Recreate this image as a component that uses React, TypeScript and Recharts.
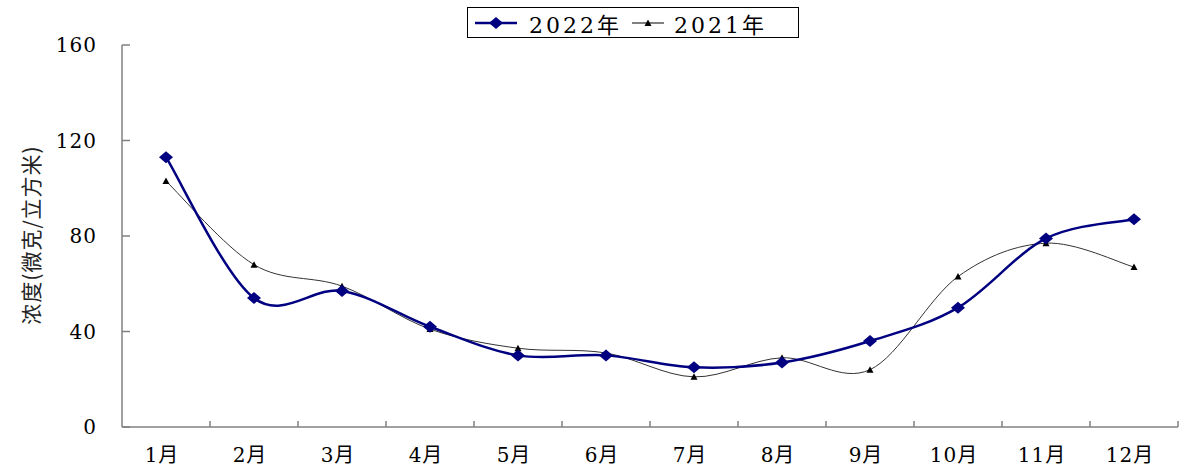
import React from "react"
import { LineChart, Line, XAxis, YAxis } from "recharts"

const MONTHS = ["1月", "2月", "3月", "4月", "5月", "6月", "7月", "8月", "9月", "10月", "11月", "12月"]
const Y2022 = [113, 54, 57, 42, 30, 30, 25, 27, 36, 50, 79, 87]
const Y2021 = [103, 68, 59, 41, 33, 31, 21, 29, 24, 63, 77, 67]
const Y_TICKS = [0, 40, 80, 120, 160]

const NAVY = "#000080"
const AXIS = "#808080"
const FONT = '"DejaVu Serif", "Noto Sans CJK SC", serif'

const data = MONTHS.map((m, i) => ({ month: m, y2022: Y2022[i], y2021: Y2021[i] }))

// excel-like smoothed line (catmull-rom as bezier)
const smooth = (context: any) => {
  let pts: number[][] = []
  return {
    areaStart() {},
    areaEnd() {},
    lineStart() {
      pts = []
    },
    point(x: number, y: number) {
      pts.push([+x, +y])
    },
    lineEnd() {
      if (!pts.length) return
      context.moveTo(pts[0][0], pts[0][1])
      for (let i = 0; i < pts.length - 1; i++) {
        const p0 = pts[i - 1] || pts[i]
        const p1 = pts[i]
        const p2 = pts[i + 1]
        const p3 = pts[i + 2] || p2
        context.bezierCurveTo(
          p1[0] + (p2[0] - p0[0]) / 6,
          p1[1] + (p2[1] - p0[1]) / 6,
          p2[0] - (p3[0] - p1[0]) / 6,
          p2[1] - (p3[1] - p1[1]) / 6,
          p2[0],
          p2[1]
        )
      }
    },
  }
}

const Diamond = (props: any) => {
  const { cx, cy, index } = props
  if (cx == null || cy == null) return <g key={index} />
  return <path key={index} d={`M${cx - 7},${cy} L${cx},${cy - 6} L${cx + 7},${cy} L${cx},${cy + 6} Z`} fill={NAVY} />
}

const Triangle = (props: any) => {
  const { cx, cy, index } = props
  if (cx == null || cy == null) return <g key={index} />
  return <path key={index} d={`M${cx - 3.5},${cy + 3} L${cx},${cy - 3.5} L${cx + 3.5},${cy + 3} Z`} fill="#000" />
}

const MonthTick = (props: any) => {
  const { x, y, payload } = props
  const half = payload?.offset || 44
  return (
    <g>
      <line x1={x + half} x2={x + half} y1={y} y2={y - 6} stroke={AXIS} strokeWidth={1.5} />
      <text x={x - 4} y={y + 35} textAnchor="middle" fontFamily={FONT} fontSize={20} letterSpacing={1} fill="#000">
        {payload.value}
      </text>
    </g>
  )
}

const YTitle = () => (
  <text
    x={30}
    y={235}
    transform="rotate(-90 30 235)"
    textAnchor="middle"
    dominantBaseline="central"
    fontFamily='"Noto Sans CJK SC", sans-serif'
    fontSize={21}
    letterSpacing={1}
    fill="#222"
  >
    浓度(微克/立方米)
  </text>
)

function LegendBox() {
  return (
    <div
      style={{
        position: "absolute",
        left: 467,
        top: 7,
        width: 332,
        height: 31,
        border: "1.5px solid #000",
        display: "flex",
        alignItems: "center",
        fontFamily: FONT,
        fontSize: 22,
        letterSpacing: 3,
        color: "#000",
        boxSizing: "border-box",
      }}
    >
      <svg width={44} height={14} style={{ marginLeft: 7 }}>
        <line x1={0} x2={42} y1={7} y2={7} stroke={NAVY} strokeWidth={2.5} />
        <path d="M14,7 L21,1 L28,7 L21,13 Z" fill={NAVY} />
      </svg>
      <span style={{ marginLeft: 10 }}>2022年</span>
      <svg width={34} height={10} style={{ marginLeft: 10 }}>
        <line x1={0} x2={32} y1={5} y2={5} stroke="#000" strokeWidth={1} />
        <path d="M12.5,8 L16,1.5 L19.5,8 Z" fill="#000" />
      </svg>
      <span style={{ marginLeft: 8 }}>2021年</span>
    </div>
  )
}

export default function App() {
  return (
    <div style={{ position: "absolute", left: 0, top: 0, width: 1184, height: 473, background: "#fff" }}>
      <LineChart width={1184} height={473} data={data} margin={{ top: 45, right: 6, left: 0, bottom: 0 }}>
        <XAxis
          dataKey="month"
          scale="band"
          height={46}
          tickLine={false}
          tickSize={0}
          tickMargin={0}
          interval={0}
          axisLine={{ stroke: AXIS, strokeWidth: 1.5 }}
          tick={<MonthTick />}
        />
        <YAxis
          width={122}
          domain={[0, 160]}
          ticks={Y_TICKS}
          interval={0}
          tickSize={-8}
          tickMargin={33}
          axisLine={{ stroke: AXIS, strokeWidth: 1.5 }}
          tickLine={{ stroke: AXIS, strokeWidth: 1.5 }}
          tick={{ fill: "#000", fontSize: 20, fontFamily: FONT, letterSpacing: 1 }}
          label={{ content: () => <YTitle /> }}
        />
        <Line
          dataKey="y2021"
          type={smooth as any}
          stroke="#333"
          strokeWidth={1}
          dot={Triangle}
          activeDot={false}
          isAnimationActive={false}
        />
        <Line
          dataKey="y2022"
          type={smooth as any}
          stroke={NAVY}
          strokeWidth={2.5}
          dot={Diamond}
          activeDot={false}
          isAnimationActive={false}
        />
      </LineChart>
      <LegendBox />
    </div>
  )
}
